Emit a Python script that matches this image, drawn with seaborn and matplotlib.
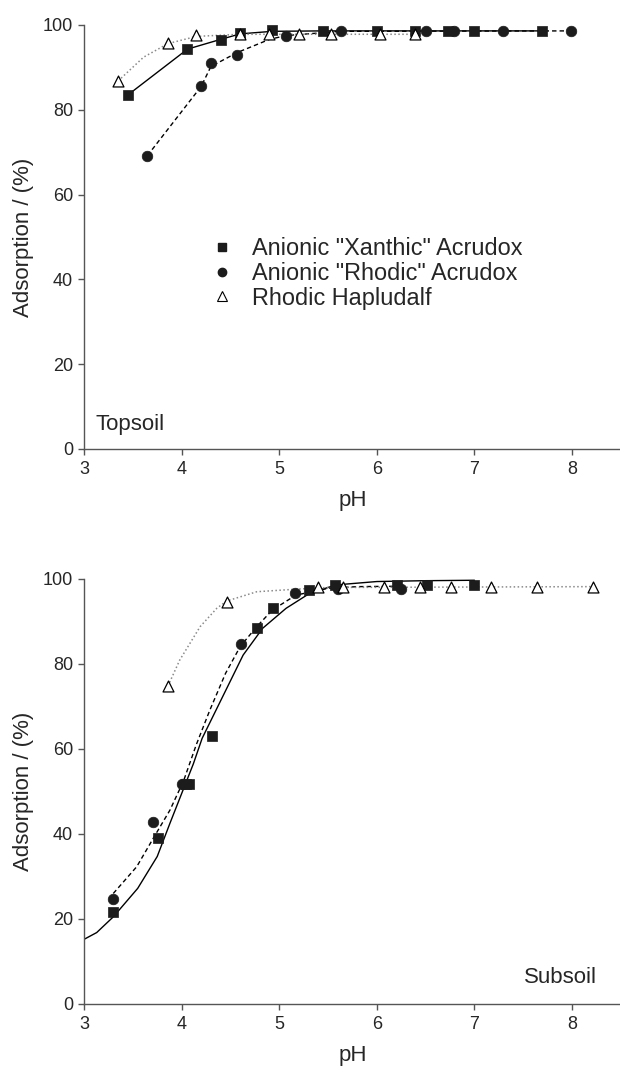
import matplotlib
matplotlib.use("Agg")
import matplotlib.pyplot as plt
from matplotlib.lines import Line2D
import seaborn as sns

# ---- Topsoil: measured points ----
top_sq_ph = [3.45, 4.06, 4.40, 4.60, 4.93, 5.45, 6.00, 6.39, 6.73, 6.99, 7.69]
top_sq_ads = [83.5, 94.3, 96.5, 98.0, 98.7, 98.5, 98.6, 98.6, 98.6, 98.6, 98.6]
top_ci_ph = [3.65, 4.20, 4.30, 4.57, 5.07, 5.63, 6.50, 6.79, 7.29, 7.99]
top_ci_ads = [69.2, 85.5, 91.0, 93.0, 97.3, 98.6, 98.6, 98.6, 98.6, 98.6]
top_tr_ph = [3.35, 3.86, 4.15, 4.60, 4.90, 5.20, 5.53, 6.03, 6.39]
top_tr_ads = [86.8, 95.8, 97.6, 97.8, 97.8, 97.8, 97.8, 97.8, 97.8]

# ---- Topsoil: fitted curves ----
top_sq_fit_ph = [3.45, 4.06, 4.40, 4.60, 4.93, 5.45, 7.69]
top_sq_fit_ads = [83.5, 94.3, 96.6, 97.9, 98.5, 98.6, 98.6]
top_ci_fit_ph = [3.65, 4.20, 4.30, 4.57, 4.90, 5.07, 5.63, 7.99]
top_ci_fit_ads = [69.2, 85.5, 90.2, 93.5, 96.6, 97.5, 98.5, 98.6]
top_tr_fit_ph = [3.35, 3.61, 3.86, 4.15, 4.60, 6.39]
top_tr_fit_ads = [86.8, 92.4, 95.6, 97.3, 97.8, 97.8]

# ---- Subsoil: measured points ----
sub_sq_ph = [3.30, 3.76, 4.04, 4.08, 4.31, 4.77, 4.94, 5.30, 5.57, 6.21, 6.51, 7.00]
sub_sq_ads = [21.6, 39.1, 51.8, 51.8, 63.1, 88.5, 93.2, 97.5, 98.6, 98.6, 98.6, 98.6]
sub_ci_ph = [3.30, 3.71, 4.00, 4.61, 5.16, 5.60, 6.25]
sub_ci_ads = [24.7, 42.8, 51.8, 84.8, 96.6, 97.6, 97.6]
sub_tr_ph = [3.86, 4.46, 5.40, 5.65, 6.07, 6.44, 6.76, 7.17, 7.64, 8.21]
sub_tr_ads = [74.8, 94.5, 98.2, 98.2, 98.2, 98.2, 98.2, 98.2, 98.2, 98.2]

# ---- Subsoil: fitted curves ----
sub_sq_fit_ph = [3.00, 3.13, 3.30, 3.55, 3.75, 3.88, 4.00, 4.12, 4.21, 4.42, 4.63,
                 4.83, 5.07, 5.31, 5.58, 6.00, 6.50, 7.00]
sub_sq_fit_ads = [15.2, 16.8, 20.5, 27.2, 34.7, 42.5, 49.5, 56.5, 62.5, 72.3, 82.1,
                  88.4, 93.1, 96.6, 98.6, 99.4, 99.6, 99.7]
sub_ci_fit_ph = [3.30, 3.54, 3.71, 3.88, 4.02, 4.15, 4.29, 4.45, 4.60, 4.77, 4.93,
                 5.17, 5.50, 5.80, 6.25]
sub_ci_fit_ads = [26.0, 32.3, 39.0, 45.6, 52.5, 61.0, 69.2, 77.8, 84.1, 88.8, 92.7,
                  96.2, 97.8, 98.2, 98.3]
sub_tr_fit_ph = [3.86, 3.98, 4.19, 4.36, 4.46, 4.77, 5.17, 5.50, 8.21]
sub_tr_fit_ads = [74.8, 80.9, 88.8, 93.1, 94.8, 97.0, 97.6, 98.0, 98.2]

series_labels = ['Anionic "Xanthic" Acrudox', 'Anionic "Rhodic" Acrudox', 'Rhodic Hapludalf']
x_ticks = [3, 4, 5, 6, 7, 8]
y_ticks = [0, 20, 40, 60, 80, 100]

sns.set_theme(style="ticks")
plt.rcParams["font.family"] = ["Liberation Sans", "DejaVu Sans"]

SPINE = "#555555"
DARK = "#1c1c1c"

fig = plt.figure(figsize=(6.2, 10.71), dpi=100)
ax_top = fig.add_axes([0.1355, 0.5808, 0.8660, 0.3959])
ax_bot = fig.add_axes([0.1355, 0.0626, 0.8660, 0.3968])


def draw_panel(ax, fits, points):
    styles = [dict(color="black", linestyle="-", linewidth=1.0),
              dict(color="black", linestyle=(0, (3.2, 2.2)), linewidth=1.0),
              dict(color="#8a8a8a", linestyle=(0, (1.0, 1.6)), linewidth=1.1)]
    for (fx, fy), st in zip(fits, styles):
        sns.lineplot(x=fx, y=fy, ax=ax, sort=False, estimator=None, **st)
    markers = [dict(marker="s", s=44, color=DARK, edgecolor=DARK, linewidth=0.5),
               dict(marker="o", s=58, color=DARK, edgecolor=DARK, linewidth=0.5),
               dict(marker="^", s=62, color="white", edgecolor="black", linewidth=0.9)]
    for (px, py), mk in zip(points, markers):
        sns.scatterplot(x=px, y=py, ax=ax, zorder=3, clip_on=False, **mk)

    ax.set_xlim(3, 8.5)
    ax.set_ylim(0, 100)
    ax.set_xticks(x_ticks)
    ax.set_yticks(y_ticks)
    ax.set_xlabel("pH", fontsize=16, labelpad=8)
    ax.set_ylabel("Adsorption / (%)", fontsize=16, labelpad=6)
    ax.tick_params(axis="both", labelsize=13, length=4, width=1.0,
                   color=SPINE, direction="out")
    ax.tick_params(axis="x", pad=5)
    ax.tick_params(axis="y", pad=4)
    sns.despine(ax=ax)
    for side in ("left", "bottom"):
        ax.spines[side].set_color(SPINE)
        ax.spines[side].set_linewidth(1.0)


draw_panel(ax_top,
           [(top_sq_fit_ph, top_sq_fit_ads), (top_ci_fit_ph, top_ci_fit_ads),
            (top_tr_fit_ph, top_tr_fit_ads)],
           [(top_sq_ph, top_sq_ads), (top_ci_ph, top_ci_ads), (top_tr_ph, top_tr_ads)])
draw_panel(ax_bot,
           [(sub_sq_fit_ph, sub_sq_fit_ads), (sub_ci_fit_ph, sub_ci_fit_ads),
            (sub_tr_fit_ph, sub_tr_fit_ads)],
           [(sub_sq_ph, sub_sq_ads), (sub_ci_ph, sub_ci_ads), (sub_tr_ph, sub_tr_ads)])

ax_top.text(0.022, 0.045, "Topsoil", transform=ax_top.transAxes, fontsize=16,
            ha="left", va="baseline")
ax_bot.text(0.955, 0.05, "Subsoil", transform=ax_bot.transAxes, fontsize=16,
            ha="right", va="baseline")

handles = [
    Line2D([], [], linestyle="none", marker="s", markersize=5.5, color=DARK),
    Line2D([], [], linestyle="none", marker="o", markersize=6.0, color=DARK),
    Line2D([], [], linestyle="none", marker="^", markersize=6.5,
           markerfacecolor="white", markeredgecolor="black", markeredgewidth=0.8),
]
ax_top.legend(handles, series_labels, loc="upper left", bbox_to_anchor=(0.236, 0.50),
              frameon=False, fontsize=16.9, handlelength=1.0, handletextpad=0.75,
              labelspacing=0.08, borderpad=0, borderaxespad=0)

fig.savefig("out.png", dpi=100)
